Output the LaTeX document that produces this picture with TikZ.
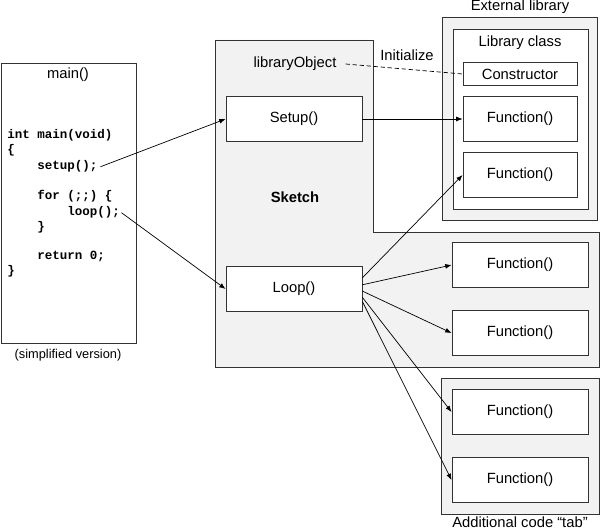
\documentclass[tikz,border=0pt]{standalone}
\usepackage{fontspec}
\setmainfont{Liberation Sans}
\setmonofont{Liberation Mono}
\usetikzlibrary{calc}
\usetikzlibrary{arrows.meta}

\tikzset{
  box/.style={draw=black!80, fill=white, line width=0.6pt, inner sep=0pt},
  fnbox/.style={box, minimum width=3.4cm, minimum height=1.125cm},
  libfn/.style={box, minimum width=2.85cm, minimum height=1.125cm},
  panel/.style={draw=black!80, fill=black!5, line width=0.6pt},
  lbl/.style={font=\fontsize{10.5}{12}\selectfont},
  code/.style={font=\fontsize{8.9}{11}\ttfamily\bfseries, anchor=base west, inner sep=0pt},
  call/.style={-{Latex[length=4.5pt,width=3.5pt]}, line width=0.5pt},
}

\begin{document}
\begin{tikzpicture}[x=0.025cm, y=-0.025cm]
\useasboundingbox (0,0) rectangle (600,530);

% panels
\draw[box] (1,63) rectangle (136,343);
\draw[panel] (215,40) -- (373,40) -- (373,232) -- (599,232) -- (599,367) -- (215,367) -- cycle;
\draw[panel] (442,17) rectangle (597,220);
\draw[box] (453,29) rectangle (588,209);
\draw[panel] (441,378) rectangle (599,514);

% main()
\node[lbl] (maintitle) at (68,75) {main()};
\node[code] (l1) at (7,139) {int main(void)};
\node[code] (l2) at (7,154) {\{};
\node[code] (setupcall) at (37,170) {setup();};
\node[code] (l4) at (37,200) {for (;;) \{};
\node[code] (loopcall) at (67,216) {loop();};
\node[code] (l6) at (37,231) {\}};
\node[code] (l7) at (37,260) {return 0;};
\node[code] (l8) at (7,275) {\}};
\node[font=\fontsize{9.1}{11}\selectfont] (note) at (68,355) {(simplified version)};

% sketch
\node[lbl] (libobj) at (295,64) {libraryObject};
\node[lbl] (init) at (407,55) {Initialize};
\node[lbl, font=\fontsize{10.5}{12}\bfseries] (sketch) at (295,197) {Sketch};
\node[fnbox, lbl] (setup) at (294,119) {Setup()};
\node[fnbox, lbl] (loop) at (294,289) {Loop()};
\node[fnbox, lbl] (sketchfnA) at (520,265) {Function()};
\node[fnbox, lbl] (sketchfnB) at (520,333) {Function()};

% external library
\node[lbl] (extlbl) at (520,7) {External library};
\node[lbl] (classlbl) at (520,43) {Library class};
\node[box, lbl, minimum width=2.85cm, minimum height=0.575cm] (ctor) at (520,74) {Constructor};
\node[libfn, lbl] (extfnA) at (520,119) {Function()};
\node[libfn, lbl] (extfnB) at (520,175) {Function()};

% tab
\node[fnbox, lbl] (tabfnA) at (520,412) {Function()};
\node[fnbox, lbl] (tabfnB) at (520,480) {Function()};
\node[lbl] (tablbl) at (520,522) {Additional code ``tab''};

% calls
\draw[call] ([xshift=2pt]setupcall.east) -- (setup.west);
\draw[call] ([xshift=1pt]loopcall.east) -- (loop.west);
\draw[call] (setup.east) -- (extfnA.west);
\draw[dash pattern=on 3pt off 2pt, line width=0.5pt] ([xshift=3pt]libobj.east) -- (ctor.west);
\draw[call] ([yshift=8pt]loop.east) -- (extfnB.west);
\draw[call] ([yshift=3pt]loop.east) -- (sketchfnA.west);
\draw[call] ([yshift=-1.5pt]loop.east) -- (sketchfnB.west);
\draw[call] ([yshift=-6pt]loop.east) -- (tabfnA.west);
\draw[call] ([yshift=-9pt]loop.east) -- (tabfnB.west);
\end{tikzpicture}
\end{document}
